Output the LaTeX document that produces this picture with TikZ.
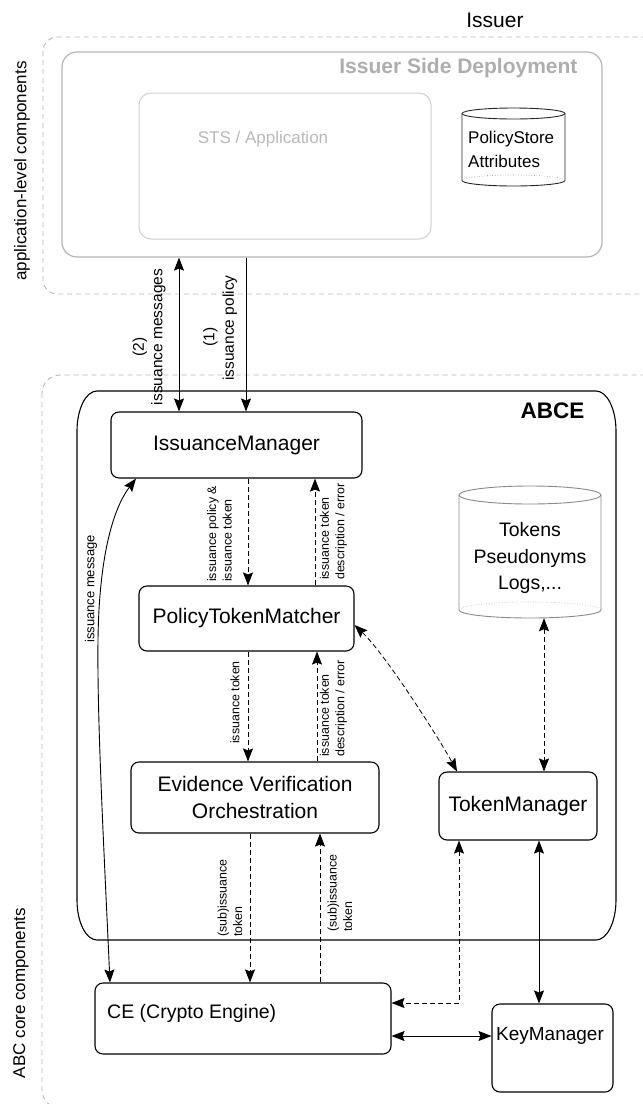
\documentclass[tikz,border=0pt]{standalone}
\usepackage{fontspec}
\setmainfont{Liberation Sans}
\usetikzlibrary{arrows.meta}
\newcommand\myfs[2]{\fontsize{#1}{#2}\selectfont}
\definecolor{gline}{HTML}{B4B4B4}
\definecolor{gtext}{HTML}{AEAEAE}
\definecolor{stsline}{HTML}{D0D0D0}
\definecolor{ststext}{HTML}{B8B8B8}
\definecolor{cylg}{HTML}{8A8A8A}
\begin{document}
\begin{tikzpicture}[x=1pt,y=-1pt,
  >={Stealth[length=13pt,width=10pt,inset=2pt]},
  box/.style={draw=black, line width=1.1pt, rounded corners=8pt, fill=white, inner sep=0pt, align=center, font=\myfs{21}{27}},
  gdash/.style={draw=gline, line width=0.9pt, dash pattern=on 5pt off 4pt},
  sar/.style={draw=black, line width=0.9pt},
  dar/.style={draw=black, line width=0.8pt, dash pattern=on 5pt off 3pt},
  vlab/.style={rotate=90, anchor=west, align=left, inner sep=0pt, font=\myfs{12.4}{15.5}},
  side/.style={rotate=90, inner sep=0pt, font=\myfs{17}{20}}
]
\useasboundingbox (0,0) rectangle (643,1104);

% outer dashed regions
\draw[gdash, rounded corners=14pt] (43,37) rectangle (680,294);
\draw[gdash, rounded corners=18pt] (42,375) rectangle (680,1108);
\node[side] (applab) at (22,171) {application-level components};
\node[side] (corelab) at (21,993) {ABC core components};
\node[font=\myfs{21}{25}] (issuer) at (495,20) {Issuer};

% issuer side deployment
\node[draw=gline, line width=1.2pt, rounded corners=15pt, minimum width=540pt, minimum height=205pt, inner sep=0pt] (isd) at (332,154.5) {};
\node[anchor=east, text=gtext, font=\bfseries\myfs{21}{25}] (isdtitle) at (581,68) {Issuer Side Deployment};
\node[draw=stsline, line width=1pt, rounded corners=12pt, minimum width=292pt, minimum height=146pt, inner sep=0pt] (sts) at (285,166) {};
\node[text=ststext, font=\myfs{17}{20}] (ststxt) at (263,139) {STS / Application};

% PolicyStore cylinder
\draw[draw=black!85, line width=0.9pt, fill=white] (462,113.5) -- (462,180.5)
  arc[start angle=180, end angle=360, x radius=51.5pt, y radius=5.5pt] -- (565,113.5)
  arc[start angle=0, end angle=180, x radius=51.5pt, y radius=5.5pt] -- cycle;
\draw[draw=black!85, line width=0.9pt] (462,113.5) arc[start angle=180, end angle=360, x radius=51.5pt, y radius=5.5pt];
\draw[draw=black!50, line width=0.6pt, dotted] (462,180.5) arc[start angle=180, end angle=0, x radius=51.5pt, y radius=5.5pt];
\node[anchor=west, align=left, inner sep=0pt, font=\myfs{17}{24}] (polstore) at (468,149) {PolicyStore\\Attributes};

% ABCE container
\draw[black, line width=1.1pt] (97,391) -- (596,391)
  arc[start angle=90, end angle=0, x radius=20pt, y radius=40pt] -- (616,900)
  arc[start angle=0, end angle=-90, x radius=20pt, y radius=40pt] -- (97,940)
  arc[start angle=270, end angle=180, x radius=20pt, y radius=40pt] -- (77,431)
  arc[start angle=180, end angle=90, x radius=20pt, y radius=40pt] -- cycle;
\node[anchor=east, font=\bfseries\myfs{22.5}{26}] (abcetitle) at (588,411) {ABCE};

% Tokens cylinder
\draw[draw=cylg, line width=0.9pt, fill=white] (459,495) -- (459,610)
  arc[start angle=180, end angle=360, x radius=71pt, y radius=8pt] -- (601,495)
  arc[start angle=0, end angle=180, x radius=71pt, y radius=9pt] -- cycle;
\draw[draw=cylg, line width=0.9pt] (459,495) arc[start angle=180, end angle=360, x radius=71pt, y radius=9pt];
\draw[draw=cylg!70, line width=0.6pt, dotted] (459,610) arc[start angle=180, end angle=0, x radius=71pt, y radius=8pt];
\node[align=center, inner sep=0pt, minimum width=142pt, minimum height=120pt, font=\myfs{19.5}{26.5}] (tokdb) at (530,558) {Tokens\\Pseudonyms\\Logs,...};

% component boxes
\node[box, minimum width=251pt, minimum height=66pt] (im) at (236.5,445) {IssuanceManager};
\node[box, minimum width=215pt, minimum height=65pt] (ptm) at (246.5,618.5) {PolicyTokenMatcher};
\node[box, minimum width=248pt, minimum height=71pt] (evo) at (255,797.5) {Evidence Verification\\Orchestration};
\node[box, minimum width=158pt, minimum height=68pt] (tm) at (518,806) {TokenManager};
\node[box, minimum width=296pt, minimum height=71pt] (ce) at (243,1018.5) {};
\node[anchor=west, inner sep=0pt, font=\myfs{19.5}{24}] (cetxt) at (107,1013) {CE (Crypto Engine)};
\node[box, minimum width=121pt, minimum height=88pt] (km) at (552.5,1048) {};
\node[inner sep=0pt, font=\myfs{19}{24}] (kmtxt) at (550,1036) {KeyManager};

% connectors issuer <-> ABCE
\draw[sar,<->] (isd.south -| 179,0) -- (im.north -| 179,0);
\draw[sar,->] (isd.south -| 246,0) -- (im.north -| 246,0);
\node[rotate=90, align=center, inner sep=0pt, font=\myfs{15.5}{18.5}] (lab2) at (149,337) {(2)\hspace*{20pt}\\issuance messages};
\node[rotate=90, align=center, inner sep=0pt, font=\myfs{15.5}{19.5}] (lab1) at (220,328) {(1)\hspace*{18pt}\\issuance policy};

% internal dashed flows
\draw[dar,->] (im.south -| 248,0) -- (ptm.north -| 248,0);
\draw[dar,->] (ptm.north -| 315,0) -- (im.south -| 315,0);
\node[vlab] (l1) at (219.5,582) {issuance policy \&\\issuance token};
\node[vlab] (l2) at (333.5,580) {issuance token\\description / error};

\draw[dar,->] (ptm.south -| 248,0) -- (evo.north -| 248,0);
\draw[dar,->] (evo.north -| 317,0) -- (ptm.south -| 317,0);
\node[vlab] (l3) at (235,744) {issuance token};
\node[vlab] (l4) at (333.5,757) {issuance token\\description / error};

\draw[dar,->] (evo.south -| 250,0) -- (ce.north -| 250,0);
\draw[dar,->] (ce.north -| 320,0) -- (evo.south -| 320,0);
\node[vlab] (l5) at (230,937) {(sub)issuance\\token};
\node[vlab] (l6) at (340,932) {(sub)issuance\\token};

% issuance message curve
\draw[sar,<->] (ce.north -| 110,0) .. controls (104,850) and (97,720) .. (98,640)
  .. controls (99,560) and (112,510) .. (im.south -| 136,0);
\node[rotate=90, inner sep=0pt, font=\myfs{13}{15}] (imlab) at (91,589) {issuance message};

% token manager links
\draw[dar,<->] (ptm.east |- 0,625) .. controls (386,655) and (440,740) .. (tm.north -| 457,0);
\draw[dar,<->] (tokdb.south -| 544,0) -- (tm.north -| 544,0);
\draw[dar,<->] (tm.south -| 459,0) |- (ce.east |- 0,1003);
\draw[sar,<->] (tm.south -| 539,0) -- (km.north -| 539,0);
\draw[sar,<->] (ce.east |- 0,1036) -- (km.west |- 0,1036);
\end{tikzpicture}
\end{document}
